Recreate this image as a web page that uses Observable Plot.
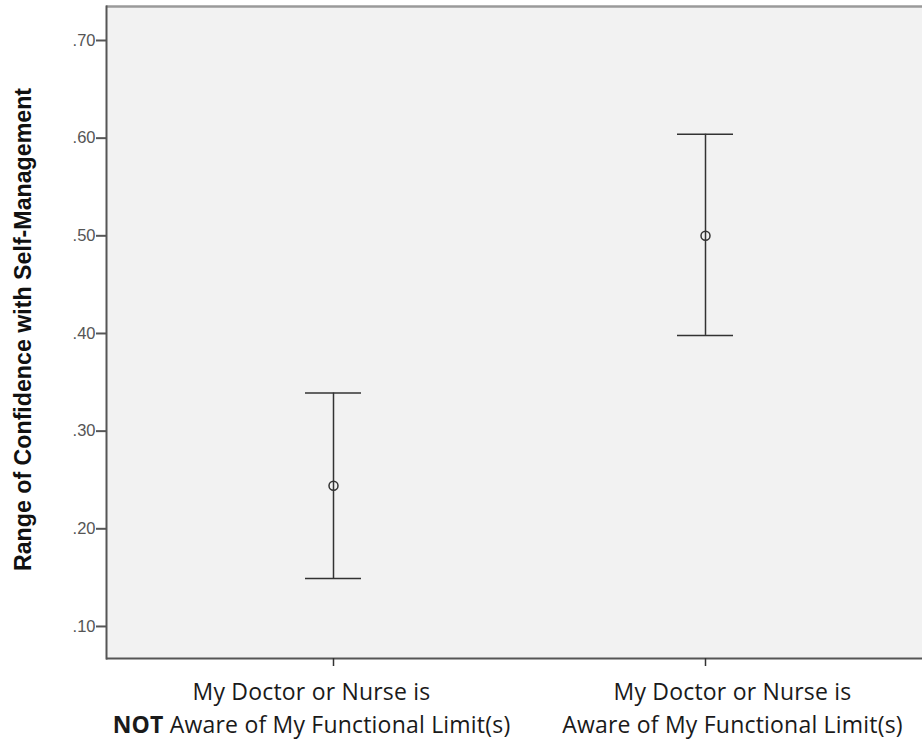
<!DOCTYPE html>
<html><head><meta charset="utf-8">
<script src="https://cdn.jsdelivr.net/npm/d3@7"></script>
<script src="https://cdn.jsdelivr.net/npm/@observablehq/plot@0.6"></script>
<style>body{margin:0;background:#fff}</style>
</head><body><div id="chart"></div>
<script>
const categories = ["Not aware", "Aware"];
const xLabels = ["My Doctor or Nurse is\nNOT Aware of My Functional Limit(s)", "My Doctor or Nurse is\nAware of My Functional Limit(s)"];
const means = [0.244, 0.500];
const lower = [0.149, 0.398];
const upper = [0.339, 0.604];
const yTicks = [0.10, 0.20, 0.30, 0.40, 0.50, 0.60, 0.70];
const yDomain = [0.0672, 0.7348];
const yTitle = "Range of Confidence with Self-Management";

const data = categories.map((c, i) => ({cat: c, mean: means[i], lo: lower[i], hi: upper[i], label: xLabels[i]}));

const font = "'Open Sans', Lato, sans-serif";
const capInset = 158;
const labelStyle = {x: "cat", frameAnchor: "bottom", text: "label", lineAnchor: "top", dy: 18, lineHeight: 1.435, fontSize: 23, fill: "#1a1a1a", fontFamily: font, className: "xlab"};
const chart = Plot.plot({
  width: 922, height: 740,
  marginLeft: 106, marginTop: 6, marginBottom: 82, marginRight: 0,
  style: {background: "#fff", fontFamily: "'Liberation Sans', Arial, sans-serif", fontSize: "16.5px"},
  x: {type: "band", domain: categories, range: [147, 891], padding: 0},
  y: {domain: yDomain},
  marks: [
    Plot.frame({fill: "#f2f2f2", stroke: "none"}),
    Plot.ruleY([yDomain[1]], {stroke: "#9a9a9a", strokeWidth: 2.5}),
    Plot.ruleY([yDomain[0]], {stroke: "#555", strokeWidth: 2}),
    Plot.axisY({ticks: yTicks, tickFormat: d => d.toFixed(2).replace(/^0/, ""), tickSize: 10, tickPadding: 1, fontSize: 16.5, color: "#555", label: null, stroke: "#555", strokeWidth: 2}),
    Plot.frame({anchor: "left", stroke: "#555", strokeWidth: 2}),
    Plot.axisX({tickSize: 8, tickFormat: () => "", label: null, stroke: "#333", strokeWidth: 1.5}),
    Plot.text(data.slice(0, 1), {...labelStyle, dx: -22}),
    Plot.text(data.slice(1), {...labelStyle, dx: 27}),
    Plot.text([yTitle], {frameAnchor: "left", text: d => d, textAnchor: "middle", rotate: -90, dx: -83, dy: -3, fontSize: 23.2, fontWeight: "bold", fill: "#111"}),
    Plot.ruleX(data, {x: "cat", y1: "lo", y2: "hi", stroke: "#333", strokeWidth: 1.5}),
    Plot.tickY(data, {x: "cat", y: "lo", stroke: "#333", strokeWidth: 1.5, insetLeft: capInset, insetRight: capInset}),
    Plot.tickY(data, {x: "cat", y: "hi", stroke: "#333", strokeWidth: 1.5, insetLeft: capInset, insetRight: capInset}),
    Plot.dot(data, {x: "cat", y: "mean", r: 4.5, stroke: "#333", strokeWidth: 1.5, fill: "none"})
  ]
});
document.getElementById("chart").appendChild(chart);
chart.querySelectorAll(".xlab").forEach(g => g.setAttribute("letter-spacing", "0.2"));
// bold "NOT"
chart.querySelectorAll("tspan").forEach(t => {
  if (t.textContent.startsWith("NOT ")) {
    const rest = t.textContent.slice(3);
    t.textContent = "";
    const b = document.createElementNS("http://www.w3.org/2000/svg", "tspan");
    b.setAttribute("font-weight", "bold");
    b.textContent = "NOT";
    t.appendChild(b);
    t.appendChild(document.createTextNode(rest));
  }
});
</script></body></html>
